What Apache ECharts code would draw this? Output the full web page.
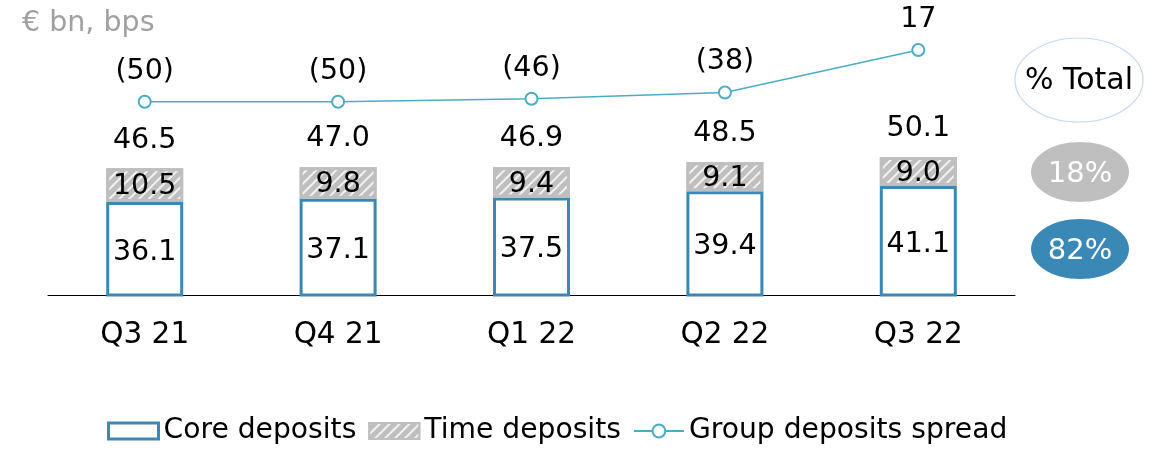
<!DOCTYPE html>
<html><head><meta charset="utf-8">
<script src="https://cdn.jsdelivr.net/npm/echarts@6/dist/echarts.min.js"></script>
<style>html,body{margin:0;padding:0;background:#fff}#c{width:1165px;height:449px}</style>
</head><body><div id="c"></div>
<script>
const categories = ['Q3 21', 'Q4 21', 'Q1 22', 'Q2 22', 'Q3 22'];
const coreDeposits = [36.1, 37.1, 37.5, 39.4, 41.1];
const timeDeposits = [10.5, 9.8, 9.4, 9.1, 9.0];
const totals = [46.5, 47.0, 46.9, 48.5, 50.1];
const spread = [-50, -50, -46, -38, 17];
const shareLabels = ['% Total', '18%', '82%'];

const FONT = 'DejaVu Sans, Verdana, sans-serif';
const BLUE = '#3A88B5';
const GREY = '#BFBFBF';
const TEAL = '#4BACC6';

const chart = echarts.init(document.getElementById('c'), null, {renderer: 'canvas'});
chart.setOption({
  animation: false,
  textStyle: {fontFamily: FONT},
  title: {text: '€ bn, bps', left: 17, top: 4, textStyle: {fontFamily: FONT, fontSize: 28.5, fontWeight: 'normal', color: '#A0A0A0'}},
  grid: {left: 48, right: 150, top: 23, height: 272},
  legend: {
    data: [
      {name: 'Core deposits', icon: 'rect', itemStyle: {borderWidth: 3}},
      {name: 'Time deposits', icon: 'rect'},
      {name: 'Group deposits spread'}
    ],
    left: 102, top: 412, itemWidth: 50, itemHeight: 16, itemGap: 12,
    textStyle: {fontFamily: FONT, fontSize: 28.2, color: '#000'}
  },
  xAxis: {
    type: 'category', data: categories,
    axisLine: {onZero: false, lineStyle: {color: '#000', width: 1}},
    axisTick: {show: false},
    axisLabel: {fontFamily: FONT, fontSize: 29.5, color: '#000', margin: 25}
  },
  yAxis: [
    {type: 'value', min: 7, max: 92, show: false, splitLine: {show: false}},
    {type: 'value', min: -300, max: 52, show: false, splitLine: {show: false}}
  ],
  series: [
    {
      name: 'Core deposits', type: 'bar', stack: 'dep', data: coreDeposits, barWidth: 77,
      itemStyle: {color: '#fff', borderColor: BLUE, borderWidth: 3},
      label: {show: true, position: 'inside', offset: [0, 3], fontFamily: FONT, fontSize: 28.5, color: '#000', formatter: p => p.value.toFixed(1)}
    },
    {
      name: 'Time deposits', type: 'bar', stack: 'dep', data: timeDeposits, barWidth: 77,
      itemStyle: {color: GREY, borderColor: GREY, borderWidth: 3,
        decal: {symbol: 'rect', symbolSize: 1, color: 'rgba(255,255,255,0.8)', dashArrayX: [1, 0], dashArrayY: [2, 5], rotation: -Math.PI / 4}},
      label: {show: true, position: 'inside', offset: [0, 2], fontFamily: FONT, fontSize: 28.5, color: '#000', formatter: p => p.value.toFixed(1)}
    },
    {
      name: 'Totals', type: 'line', data: totals, symbol: 'circle', symbolSize: 2,
      itemStyle: {color: 'rgba(0,0,0,0)', borderWidth: 0}, lineStyle: {width: 0, color: 'rgba(0,0,0,0)'},
      label: {show: true, position: 'top', distance: 13, fontFamily: FONT, fontSize: 28.5, color: '#000', formatter: p => p.value.toFixed(1)},
      silent: true, z: 5
    },
    {
      name: 'Group deposits spread', type: 'line', yAxisIndex: 1, data: spread,
      symbol: 'emptyCircle', symbolSize: 12,
      lineStyle: {color: TEAL, width: 1.5},
      itemStyle: {color: TEAL, borderWidth: 2},
      label: {show: true, position: 'top', distance: 9, fontFamily: FONT, fontSize: 28.5, color: '#000',
        formatter: p => p.value < 0 ? '(' + (-p.value) + ')' : String(p.value)}
    }
  ],
  graphic: [
    {type: 'ellipse', shape: {cx: 1079, cy: 80, rx: 64, ry: 42}, style: {fill: '#fff', stroke: '#C5D9F1', lineWidth: 1.2}},
    {type: 'text', x: 1079, y: 81, style: {text: shareLabels[0], fontFamily: FONT, fontSize: 30, fill: '#000', align: 'center', verticalAlign: 'middle'}},
    {type: 'ellipse', shape: {cx: 1080, cy: 172, rx: 49, ry: 30}, style: {fill: GREY}},
    {type: 'text', x: 1080, y: 174, style: {text: shareLabels[1], fontFamily: FONT, fontSize: 29, fill: '#fff', align: 'center', verticalAlign: 'middle'}},
    {type: 'ellipse', shape: {cx: 1080, cy: 249, rx: 49, ry: 30}, style: {fill: BLUE}},
    {type: 'text', x: 1080, y: 251, style: {text: shareLabels[2], fontFamily: FONT, fontSize: 29, fill: '#fff', align: 'center', verticalAlign: 'middle'}}
  ]
});
</script></body></html>
